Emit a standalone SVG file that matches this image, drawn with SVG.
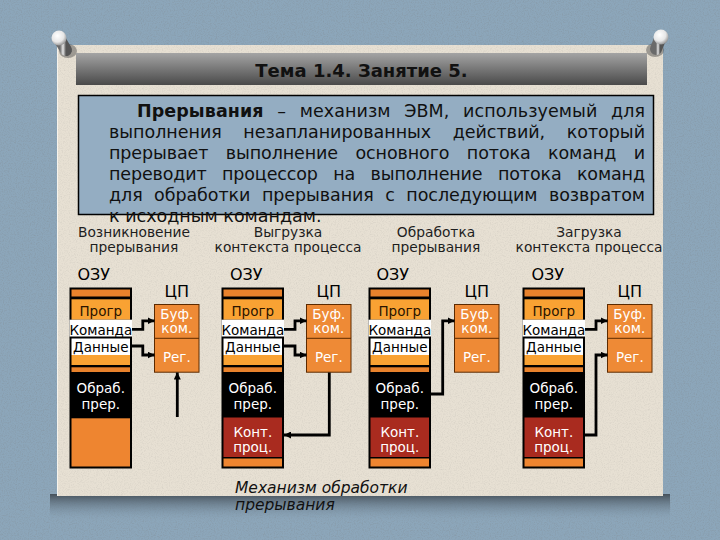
<svg xmlns="http://www.w3.org/2000/svg" xmlns:xlink="http://www.w3.org/1999/xlink" width="720" height="540" viewBox="0 0 720 540">
<defs>
<style>
.t{font-family:"DejaVu Sans","Verdana",sans-serif}
.box{font-size:17.5px;fill:#111}
.cap{font-size:13.8px;fill:#1e1e1e;text-anchor:middle}
.lbl{font-size:16px;fill:#000}
.cell{font-size:13.5px;text-anchor:middle}
.w{fill:#fff}
.k{fill:#000}
.br{fill:#2a1400}
.wire{fill:none;stroke:#000;stroke-width:2.8;stroke-linejoin:miter}
.arr{marker-end:url(#ah)}
</style>
<marker id="ah" viewBox="0 0 7 7" refX="7" refY="3.5" markerWidth="7" markerHeight="7" markerUnits="userSpaceOnUse" orient="auto"><path d="M0,0 L7,3.5 L0,7 z" fill="#000"/></marker>
<linearGradient id="hdr" x1="0" y1="0" x2="0" y2="1"><stop offset="0" stop-color="#a4a4a4"/><stop offset="1" stop-color="#4a4a4a"/></linearGradient>
<linearGradient id="shadow" x1="0" y1="0" x2="0" y2="1"><stop offset="0" stop-color="#46515b"/><stop offset="1" stop-color="#8ca6ba" stop-opacity="0"/></linearGradient>
<radialGradient id="pinHead" cx="0.4" cy="0.35" r="0.7"><stop offset="0" stop-color="#ffffff"/><stop offset="0.6" stop-color="#e6e6e6"/><stop offset="1" stop-color="#8a8a8a"/></radialGradient>
<linearGradient id="pinBody" x1="0" y1="0" x2="1" y2="0"><stop offset="0" stop-color="#6a6a6a"/><stop offset="0.5" stop-color="#e8e8e8"/><stop offset="1" stop-color="#555"/></linearGradient>
<filter id="grain" x="0" y="0" width="100%" height="100%"><feTurbulence type="fractalNoise" baseFrequency="0.85" numOctaves="2" seed="4"/><feColorMatrix type="matrix" values="0 0 0 0 0.2  0 0 0 0 0.2  0 0 0 0 0.2  1.6 0 0 0 -0.7"/></filter>
<g id="ramBase">
<rect x="0" y="287.5" width="62.5" height="181" fill="#000"/>
<rect x="2" y="289.5" width="58.5" height="7" fill="#e8822c"/>
<rect x="2" y="299.3" width="58.5" height="20.4" fill="#f9a233"/>
<rect x="0" y="319.7" width="62.5" height="16.8" fill="#fff"/>
<rect x="2" y="338.5" width="58.5" height="16.5" fill="#fff"/>
<rect x="2" y="355" width="58.5" height="10" fill="#f9a233"/>
<rect x="2" y="367.3" width="58.5" height="4.7" fill="#e8822c"/>
</g>
<g id="ramTail">
<rect x="2" y="417.5" width="58.5" height="39.5" fill="#a92b1f"/>
<rect x="2" y="458.5" width="58.5" height="8" fill="#ee8530"/>
</g>
<g id="cpuBase">
<rect x="0" y="304.5" width="44.5" height="67.7" fill="#ee8a36" stroke="#5c2a00" stroke-width="1"/>
<line x1="0" y1="338.3" x2="44.5" y2="338.3" stroke="#5c2a00" stroke-width="1"/>
</g>
</defs>

<g id="background">
<rect x="0" y="0" width="720" height="540" fill="#8ca6ba"/>
<rect x="0" y="0" width="720" height="540" filter="url(#grain)" opacity="0.35"/>
<rect x="50" y="494" width="620" height="28" fill="url(#shadow)"/>
<rect x="57" y="45" width="606" height="451" fill="#e7e0d3"/>
<rect x="57" y="45" width="606" height="451" filter="url(#grain)" opacity="0.18"/>
<line x1="57.5" y1="45" x2="57.5" y2="496" stroke="#f6f3ec" stroke-width="1"/>
</g>

<g id="pin-left">
<ellipse cx="68" cy="51" rx="9" ry="7" fill="#444" opacity="0.45"/>
<line x1="60" y1="40" x2="66" y2="50" stroke="url(#pinBody)" stroke-width="12" stroke-linecap="round"/>
<circle cx="59" cy="38" r="7.5" fill="url(#pinHead)"/>
</g>
<g id="pin-right">
<ellipse cx="655" cy="50" rx="9" ry="7" fill="#444" opacity="0.45"/>
<line x1="660" y1="39" x2="656" y2="49" stroke="url(#pinBody)" stroke-width="12" stroke-linecap="round"/>
<circle cx="661" cy="37" r="7.5" fill="url(#pinHead)"/>
</g>

<g id="header">
<rect x="76" y="53" width="571" height="32" fill="url(#hdr)"/>
<text class="t" x="361.5" y="77" font-size="18" font-weight="bold" text-anchor="middle" fill="#111">Тема 1.4. Занятие 5.</text>
</g>

<g id="definition">
<rect x="78.5" y="95.5" width="575" height="119" fill="#94adc2" stroke="#000" stroke-width="1.5"/>
<text class="t box" x="137" y="117" word-spacing="8" textLength="508" lengthAdjust="spacing"><tspan font-weight="bold">Прерывания</tspan> – механизм ЭВМ, используемый для</text>
<text class="t box" x="109" y="138" word-spacing="16" textLength="536" lengthAdjust="spacing">выполнения незапланированных действий, который</text>
<text class="t box" x="109" y="159" word-spacing="12" textLength="536" lengthAdjust="spacing">прерывает выполнение основного потока команд и</text>
<text class="t box" x="109" y="180" word-spacing="10" textLength="536" lengthAdjust="spacing">переводит процессор на выполнение потока команд</text>
<text class="t box" x="109" y="201" word-spacing="6" textLength="536" lengthAdjust="spacing">для обработки прерывания с последующим возвратом</text>
<text class="t box" x="109" y="221.5">к исходным командам.</text>
</g>

<g id="captions">
<text class="t cap" x="134" y="237">Возникновение</text>
<text class="t cap" x="134" y="252">прерывания</text>
<text class="t cap" x="288" y="237">Выгрузка</text>
<text class="t cap" x="288" y="252">контекста процесса</text>
<text class="t cap" x="436" y="237">Обработка</text>
<text class="t cap" x="436" y="252">прерывания</text>
<text class="t cap" x="589" y="237">Загрузка</text>
<text class="t cap" x="589" y="252">контекста процесса</text>
</g>

<g id="ram-1">
<text class="t lbl" x="77.5" y="280">ОЗУ</text>
<use xlink:href="#ramBase" x="69.5"/>
<rect x="71.5" y="418.3" width="58.5" height="48.2" fill="#ee8530"/>
<text class="t cell br" x="100.8" y="316">Прогр</text>
<text class="t cell k" x="100.8" y="334.5">Команда</text>
<text class="t cell k" x="100.8" y="351.5">Данные</text>
<text class="t cell w" x="100.8" y="393">Обраб.</text>
<text class="t cell w" x="100.8" y="409">прер.</text>
</g>
<g id="cpu-1">
<text class="t lbl" x="176.8" y="296.5" text-anchor="middle">ЦП</text>
<use xlink:href="#cpuBase" x="154.5"/>
<text class="t cell w" x="176.8" y="318.5">Буф.</text>
<text class="t cell w" x="176.8" y="333">ком.</text>
<text class="t cell w" x="176.8" y="361.5">Рег.</text>
</g>

<g id="ram-2">
<text class="t lbl" x="230" y="280">ОЗУ</text>
<use xlink:href="#ramBase" x="221.5"/>
<use xlink:href="#ramTail" x="221.5"/>
<text class="t cell br" x="252.8" y="316">Прогр</text>
<text class="t cell k" x="252.8" y="334.5">Команда</text>
<text class="t cell k" x="252.8" y="351.5">Данные</text>
<text class="t cell w" x="252.8" y="393">Обраб.</text>
<text class="t cell w" x="252.8" y="409">прер.</text>
<text class="t cell w" x="252.8" y="436.5">Конт.</text>
<text class="t cell w" x="252.8" y="452">проц.</text>
</g>
<g id="cpu-2">
<text class="t lbl" x="328.8" y="296.5" text-anchor="middle">ЦП</text>
<use xlink:href="#cpuBase" x="306.5"/>
<text class="t cell w" x="328.8" y="318.5">Буф.</text>
<text class="t cell w" x="328.8" y="333">ком.</text>
<text class="t cell w" x="328.8" y="361.5">Рег.</text>
</g>

<g id="ram-3">
<text class="t lbl" x="376.5" y="280">ОЗУ</text>
<use xlink:href="#ramBase" x="368.5"/>
<use xlink:href="#ramTail" x="368.5"/>
<text class="t cell br" x="399.8" y="316">Прогр</text>
<text class="t cell k" x="399.8" y="334.5">Команда</text>
<text class="t cell k" x="399.8" y="351.5">Данные</text>
<text class="t cell w" x="399.8" y="393">Обраб.</text>
<text class="t cell w" x="399.8" y="409">прер.</text>
<text class="t cell w" x="399.8" y="436.5">Конт.</text>
<text class="t cell w" x="399.8" y="452">проц.</text>
</g>
<g id="cpu-3">
<text class="t lbl" x="476.8" y="296.5" text-anchor="middle">ЦП</text>
<use xlink:href="#cpuBase" x="454.5"/>
<text class="t cell w" x="476.8" y="318.5">Буф.</text>
<text class="t cell w" x="476.8" y="333">ком.</text>
<text class="t cell w" x="476.8" y="361.5">Рег.</text>
</g>

<g id="ram-4">
<text class="t lbl" x="531.5" y="280">ОЗУ</text>
<use xlink:href="#ramBase" x="522.5"/>
<use xlink:href="#ramTail" x="522.5"/>
<text class="t cell br" x="553.8" y="316">Прогр</text>
<text class="t cell k" x="553.8" y="334.5">Команда</text>
<text class="t cell k" x="553.8" y="351.5">Данные</text>
<text class="t cell w" x="553.8" y="393">Обраб.</text>
<text class="t cell w" x="553.8" y="409">прер.</text>
<text class="t cell w" x="553.8" y="436.5">Конт.</text>
<text class="t cell w" x="553.8" y="452">проц.</text>
</g>
<g id="cpu-4">
<text class="t lbl" x="629.8" y="296.5" text-anchor="middle">ЦП</text>
<use xlink:href="#cpuBase" x="607.5"/>
<text class="t cell w" x="629.8" y="318.5">Буф.</text>
<text class="t cell w" x="629.8" y="333">ком.</text>
<text class="t cell w" x="629.8" y="361.5">Рег.</text>
</g>

<g id="connectors">
<path class="wire arr" d="M132,329.3 H142.8 V320.8 H154.5"/>
<path class="wire arr" d="M132,346 H142.8 V355 H154.5"/>
<path class="wire arr" d="M177.3,417 V372.5"/>
<path class="wire arr" d="M284,329.3 H295 V320.8 H306.5"/>
<path class="wire arr" d="M284,346 H295 V355 H306.5"/>
<path class="wire arr" d="M329.3,372.5 V435 H284"/>
<path class="wire arr" d="M431,394 H442.7 V320.8 H454.5"/>
<path class="wire arr" d="M585,329.3 H596 V320.8 H607.5"/>
<path class="wire arr" d="M585,435 H596 V355 H607.5"/>
</g>

<g id="footnote">
<text class="t" x="235" y="493" font-size="15.5" font-style="italic" fill="#111">Механизм обработки</text>
<text class="t" x="235" y="510" font-size="15.5" font-style="italic" fill="#111">прерывания</text>
</g>
</svg>
